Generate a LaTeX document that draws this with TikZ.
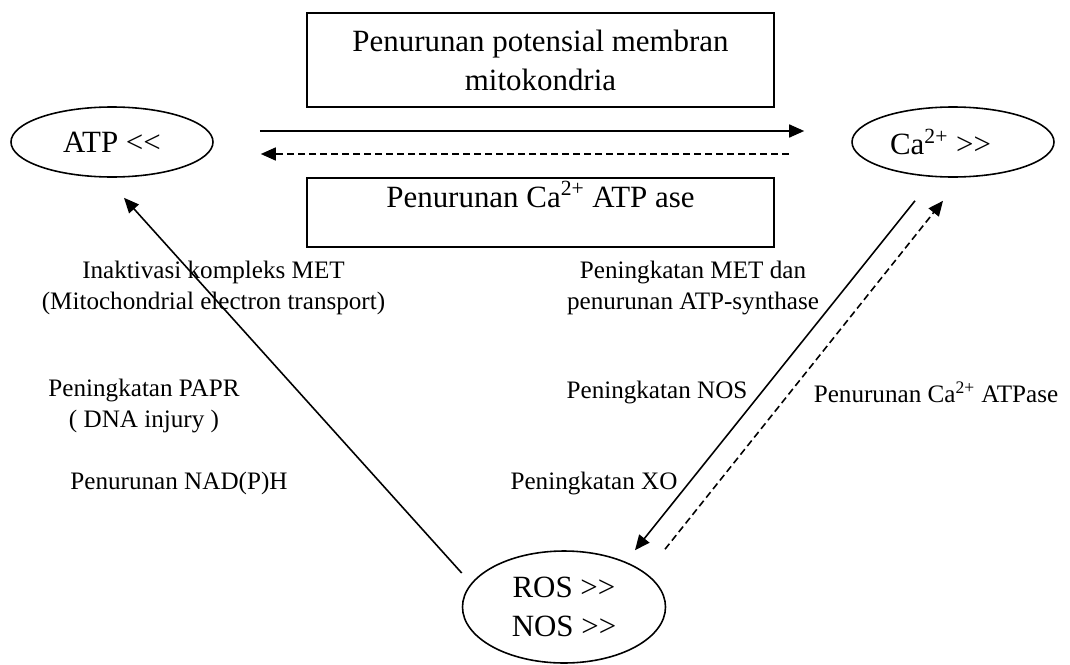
\documentclass[tikz,border=0pt]{standalone}
\usepackage{fontspec}
\setmainfont{Liberation Serif}
\usepackage{tikz}
\usetikzlibrary{arrows.meta,positioning,calc,shapes.geometric}
\newcommand{\bigfont}{\fontsize{17.6}{22.2}\selectfont}
\newcommand{\labelfont}{\fontsize{14.3}{17.6}\selectfont}
\newcommand{\muchless}{<\kern0pt<}
\newcommand{\muchmore}{>\kern0pt>}

\begin{document}
\begin{tikzpicture}[
  box/.style={draw,line width=0.9pt,minimum width=9.34cm,align=center,font=\bigfont,inner sep=0pt},
  state/.style={ellipse,draw,line width=0.9pt,minimum width=4.04cm,minimum height=1.4cm,inner sep=0pt,align=center,font=\bigfont},
  note/.style={align=center,font=\labelfont,inner sep=0pt},
  arrow/.style={-{Triangle[length=0.3cm,width=0.26cm]},line width=0.9pt},
  back/.style={arrow,dash pattern=on 0.14cm off 0.08cm}
]
\useasboundingbox (0,0) rectangle (21.4,-13.28);
\node[box,minimum height=1.88cm] (potential) at (10.81,-1.2) {Penurunan potensial membran\\mitokondria};
\node[box,text height=0.58cm,text depth=0.8cm] (pump) at (10.81,-4.25) {Penurunan Ca\textsuperscript{2+} ATP ase};
\node[state] (atp) at (2.24,-2.84) {ATP \muchless};
\node[state] (ca) at (19.06,-2.84) {Ca\textsuperscript{2+} \muchmore\hspace{0.5cm}};
\node[state,minimum width=4.06cm,minimum height=2.24cm] (ros) at (11.28,-12.14) {ROS \muchmore\\NOS \muchmore};

\node[note] (inact) at (4.27,-5.76) {Inaktivasi kompleks MET\\(Mitochondrial electron transport)};
\node[note] (papr) at (2.88,-8.12) {Peningkatan PAPR\\( DNA injury )};
\node[note] (nadph) at (3.58,-9.66) {Penurunan NAD(P)H};
\node[note] (met) at (13.86,-5.76) {Peningkatan MET dan\\penurunan ATP-synthase};
\node[note] (nos) at (13.14,-7.84) {Peningkatan NOS};
\node[note] (capase) at (18.72,-7.84) {Penurunan Ca\textsuperscript{2+} ATPase};
\node[note] (xo) at (11.88,-9.66) {Peningkatan XO};

\draw[arrow] ([shift={(0.92,0.22)}]atp.east) -- ([shift={(-0.94,0.22)}]ca.west);
\draw[back] ([shift={(-1.24,-0.24)}]ca.west) -- ([shift={(0.94,-0.24)}]atp.east);
\draw[arrow] ([yshift=0.68cm]ros.west) -- ([shift={(0.24,-0.4)}]atp.south);
\draw[arrow] ([shift={(-0.76,-0.46)}]ca.south) -- ([xshift=1.42cm]ros.north);
\draw[back] ([shift={(2.02,0.02)}]ros.north) -- ([shift={(-0.2,-0.46)}]ca.south);
\end{tikzpicture}
\end{document}
